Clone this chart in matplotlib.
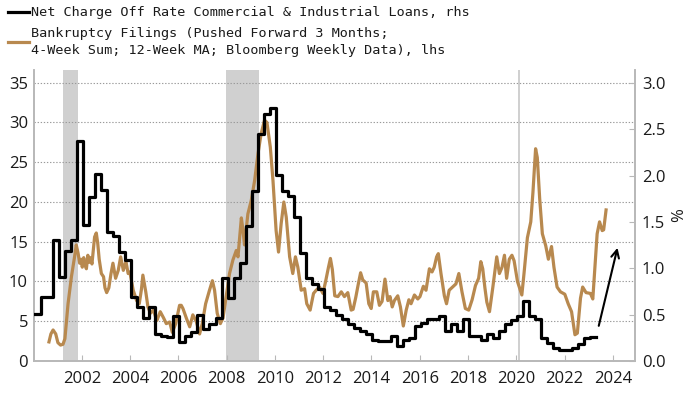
import numpy as np
import matplotlib
matplotlib.use("Agg")
import matplotlib.pyplot as plt
from matplotlib.lines import Line2D

# ---------------- data ----------------
# Net charge-off rate, C&I loans (%), quarterly steps (rhs)
black_start = 2000.04
black_pct = [0.51, 0.69, 0.69, 1.30, 0.91, 1.19, 1.30, 2.37, 1.47, 1.77,
             2.02, 1.84, 1.39, 1.35, 1.17, 1.09, 0.69, 0.58, 0.46, 0.58,
             0.29, 0.27, 0.26, 0.48, 0.21, 0.27, 0.31, 0.50, 0.35, 0.40,
             0.46, 0.89, 0.68, 0.89, 1.06, 1.46, 1.83, 2.45, 2.66, 2.73,
             2.01, 1.83, 1.78, 1.55, 1.16, 0.89, 0.83, 0.78, 0.58, 0.55,
             0.50, 0.45, 0.40, 0.36, 0.32, 0.29, 0.23, 0.22, 0.22, 0.27,
             0.16, 0.23, 0.25, 0.38, 0.41, 0.45, 0.45, 0.49, 0.32, 0.40,
             0.32, 0.45, 0.27, 0.27, 0.23, 0.29, 0.25, 0.32, 0.40, 0.44,
             0.48, 0.65, 0.49, 0.45, 0.25, 0.19, 0.14, 0.12, 0.12, 0.14,
             0.18, 0.25, 0.26]

# Bankruptcy filings (lhs)
bk_years = [2000.64, 2000.72, 2000.81, 2000.92, 2001.01, 2001.12, 2001.22, 2001.30, 2001.43, 2001.57,
            2001.70, 2001.77, 2001.85, 2001.91, 2001.97, 2002.02, 2002.08, 2002.12, 2002.19, 2002.25,
            2002.30, 2002.36, 2002.42, 2002.53, 2002.60, 2002.66, 2002.72, 2002.81, 2002.90, 2002.96,
            2003.03, 2003.12, 2003.21, 2003.29, 2003.40, 2003.51, 2003.61, 2003.72, 2003.83, 2003.92,
            2003.99, 2004.13, 2004.27, 2004.38, 2004.47, 2004.53, 2004.60, 2004.65, 2004.74, 2004.84,
            2004.97, 2005.05, 2005.11, 2005.25, 2005.39, 2005.50, 2005.64, 2005.75, 2005.89, 2006.05,
            2006.12, 2006.19, 2006.33, 2006.47, 2006.60, 2006.74, 2006.88, 2006.99, 2007.13, 2007.29,
            2007.41, 2007.50, 2007.61, 2007.74, 2007.85, 2007.98, 2008.12, 2008.26, 2008.40, 2008.47,
            2008.61, 2008.68, 2008.74, 2008.88, 2009.02, 2009.16, 2009.30, 2009.43, 2009.57, 2009.67,
            2009.81, 2009.92, 2010.05, 2010.15, 2010.26, 2010.37, 2010.47, 2010.61, 2010.74, 2010.85,
            2010.95, 2011.09, 2011.23, 2011.32, 2011.46, 2011.60, 2011.71, 2011.85, 2011.99, 2012.10,
            2012.22, 2012.30, 2012.38, 2012.48, 2012.61, 2012.75, 2012.88, 2013.02, 2013.16, 2013.24,
            2013.35, 2013.45, 2013.55, 2013.64, 2013.78, 2013.89, 2013.99, 2014.08, 2014.22, 2014.33,
            2014.44, 2014.56, 2014.68, 2014.77, 2014.86, 2014.95, 2015.09, 2015.20, 2015.32, 2015.44,
            2015.55, 2015.64, 2015.78, 2015.92, 2016.01, 2016.15, 2016.26, 2016.40, 2016.51, 2016.60,
            2016.70, 2016.77, 2016.88, 2017.02, 2017.11, 2017.22, 2017.36, 2017.50, 2017.62, 2017.75,
            2017.89, 2018.03, 2018.17, 2018.31, 2018.44, 2018.53, 2018.61, 2018.70, 2018.78, 2018.89,
            2019.03, 2019.19, 2019.30, 2019.41, 2019.51, 2019.60, 2019.71, 2019.82, 2019.91, 2020.05,
            2020.23, 2020.32, 2020.46, 2020.60, 2020.69, 2020.80, 2020.87, 2020.97, 2021.08, 2021.22,
            2021.33, 2021.46, 2021.56, 2021.69, 2021.83, 2022.01, 2022.15, 2022.29, 2022.43, 2022.53,
            2022.66, 2022.75, 2022.89, 2023.07, 2023.17, 2023.25, 2023.35, 2023.45, 2023.56, 2023.62,
            2023.72]
bk_values = [2.4, 3.4, 3.9, 3.4, 2.3, 2.0, 2.1, 2.8, 7.2, 10.6,
             13.1, 14.6, 13.5, 12.3, 12.8, 11.8, 13.0, 12.2, 11.6, 13.3,
             12.4, 13.0, 12.2, 15.6, 16.1, 14.8, 12.8, 11.0, 10.6, 9.2,
             8.6, 9.2, 11.0, 12.3, 10.4, 11.4, 13.1, 11.4, 12.5, 11.0,
             11.2, 8.9, 7.6, 7.2, 9.0, 10.8, 9.6, 8.7, 6.8, 6.0,
             6.4, 5.6, 5.1, 6.2, 5.4, 4.7, 4.9, 3.6, 4.7, 7.0,
             7.0, 6.6, 5.4, 4.3, 5.8, 5.0, 3.4, 4.7, 7.2, 8.9,
             10.1, 8.9, 6.0, 4.7, 5.4, 8.1, 11.0, 12.7, 13.9, 13.1,
             18.0, 16.4, 14.6, 18.5, 20.2, 22.7, 26.1, 28.6, 30.3, 30.0,
             26.9, 22.7, 16.4, 13.7, 17.3, 20.0, 18.1, 13.1, 11.0, 13.1,
             11.8, 8.9, 9.1, 7.2, 6.4, 8.5, 8.9, 9.3, 8.5, 10.0,
             11.8, 12.9, 11.5, 8.2, 8.1, 8.7, 8.1, 8.6, 6.4, 6.5,
             8.0, 9.6, 11.1, 10.2, 9.8, 7.2, 6.6, 8.7, 8.7, 7.0,
             7.5, 10.3, 7.6, 8.1, 6.8, 7.6, 8.2, 6.8, 4.4, 6.4,
             7.7, 7.2, 8.3, 7.8, 8.1, 9.4, 8.9, 11.6, 11.2, 11.8,
             13.1, 13.5, 11.0, 8.2, 7.2, 8.9, 9.3, 9.7, 11.0, 8.7,
             6.6, 6.4, 7.7, 9.5, 10.4, 12.5, 11.6, 9.2, 7.4, 6.2,
             9.3, 13.1, 11.0, 11.8, 13.3, 10.4, 12.8, 13.3, 12.6, 10.0,
             8.3, 11.0, 15.5, 17.5, 21.2, 26.7, 25.6, 20.4, 16.0, 14.5,
             12.8, 14.4, 11.8, 9.3, 8.7, 8.4, 7.2, 6.2, 3.3, 3.5,
             7.9, 9.3, 8.6, 8.5, 7.8, 11.5, 16.0, 17.5, 16.4, 16.5,
             19.0]

# Recessions
rec_start = [2001.23, 2007.96, 2020.09]
rec_end = [2001.83, 2009.35, 2020.17]

# Arrow annotation (rhs scale)
arrow_from = (2023.39, 0.35)
arrow_to = (2024.22, 1.25)

x_ticks = list(range(2002, 2025, 2))
left_ticks = [0, 5, 10, 15, 20, 25, 30, 35]
right_ticks = [0.0, 0.5, 1.0, 1.5, 2.0, 2.5, 3.0]

legend_black = "Net Charge Off Rate Commercial & Industrial Loans, rhs"
legend_orange_1 = "Bankruptcy Filings (Pushed Forward 3 Months;"
legend_orange_2 = "4-Week Sum; 12-Week MA; Bloomberg Weekly Data), lhs"

# ---------------- style ----------------
ORANGE = "#B8894F"
BLACK = "#000000"
TEXT = "#1a1a1a"
SPINE = "#b8b8b8"
SHADE = "#d0d0d0"
tick_font = "Open Sans"
mono_font = "DejaVu Sans Mono"

fig = plt.figure(figsize=(7.0, 3.94), dpi=100)
ax = fig.add_axes([0.0479, 0.0838, 0.8593, 0.7385])
ax2 = ax.twinx()

for s, e in zip(rec_start, rec_end):
    ax.axvspan(s, e, color=SHADE, lw=0, zorder=0)

ax.plot(bk_years, bk_values, color=ORANGE, lw=2.3, solid_joinstyle="round", zorder=3)

bx = black_start + 0.25 * np.arange(len(black_pct) + 1)
by = np.append(black_pct, black_pct[-1])
ax2.plot(bx, by, drawstyle="steps-post", color=BLACK, lw=2.3, zorder=3)

ax.set_xlim(2000.0, 2024.92)
ax.set_ylim(0, 36.6)
ax2.set_ylim(0, 3.138)

for y in left_ticks[1:]:
    ax.axhline(y, color="#9a9a9a", lw=0.8, ls=(0, (1.2, 1.6)), zorder=1)

ax.set_xticks(x_ticks)
ax.set_xticklabels([str(v) for v in x_ticks], fontfamily=tick_font, fontsize=12, color=TEXT)
ax.set_yticks(left_ticks)
ax.set_yticklabels([str(v) for v in left_ticks], fontfamily=tick_font, fontsize=12, color=TEXT)
ax2.set_yticks(right_ticks)
ax2.set_yticklabels([f"{v:.1f}" for v in right_ticks], fontfamily=tick_font, fontsize=12, color=TEXT)

ax.tick_params(axis="x", direction="in", length=4, color=SPINE, pad=7)
ax.tick_params(axis="y", length=0, pad=4)
ax2.tick_params(axis="y", direction="in", length=4, color=SPINE, pad=5)

for a in (ax, ax2):
    a.spines["top"].set_visible(False)
    for side in ("left", "right", "bottom"):
        a.spines[side].set_color(SPINE)
        a.spines[side].set_linewidth(1.2)

ax2.set_ylabel("%", fontfamily=tick_font, fontsize=12, color=TEXT, rotation=90, labelpad=4)

ax2.annotate("", xy=arrow_to, xytext=arrow_from,
             arrowprops=dict(arrowstyle="->", color=BLACK, lw=1.5, mutation_scale=14))

# legend drawn manually at top
fig.add_artist(Line2D([0.0114, 0.0414], [0.9695, 0.9695], transform=fig.transFigure,
                      color=BLACK, lw=2.3))
fig.add_artist(Line2D([0.0114, 0.0414], [0.893, 0.893], transform=fig.transFigure,
                      color=ORANGE, lw=2.3))
fig.text(0.0443, 0.9695, legend_black, fontfamily=mono_font, fontsize=9.7, color=TEXT, va="center")
fig.text(0.0443, 0.916, legend_orange_1, fontfamily=mono_font, fontsize=9.7, color=TEXT, va="center")
fig.text(0.0443, 0.873, legend_orange_2, fontfamily=mono_font, fontsize=9.7, color=TEXT, va="center")

fig.savefig("out.png", dpi=100)
